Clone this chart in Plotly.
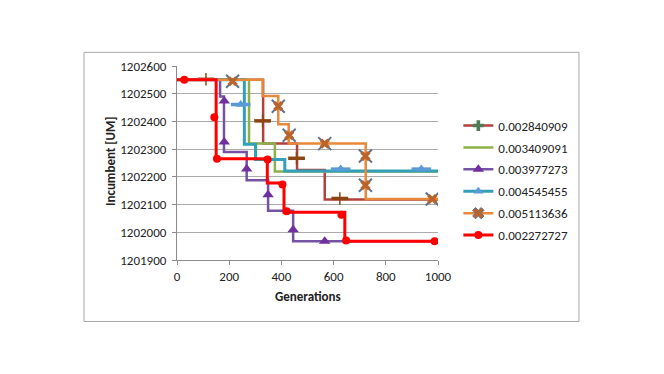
import plotly.graph_objects as go

# ---- data (step breakpoints, value holds until next x) ----
names = ["0.002840909", "0.003409091", "0.003977273", "0.004545455", "0.005113636", "0.002272727"]

s1_x = [0, 330, 460, 566, 1000]
s1_y = [1202550, 1202320, 1202225, 1202118, 1202118]
s1_mx = [111, 328, 458, 624]
s1_my = [1202552, 1202402, 1202267, 1202122]

s2_x = [0, 276, 375, 1000]
s2_y = [1202550, 1202320, 1202219, 1202219]
s2_mx = []
s2_my = []

s3_x = [0, 165, 180, 267, 349, 445, 1000]
s3_y = [1202550, 1202490, 1202290, 1202188, 1202078, 1201968, 1201968]
s3_mx = [181, 181, 267, 349, 445, 566]
s3_my = [1202474, 1202326, 1202228, 1202135, 1202009, 1201968]

s4_x = [0, 258, 301, 413, 1000]
s4_y = [1202550, 1202318, 1202263, 1202221, 1202221]
s4_mx = [244, 627, 936]
s4_my = [1202461, 1202228, 1202228]

s5_x = [0, 328, 388, 428, 723, 1000]
s5_y = [1202550, 1202492, 1202390, 1202320, 1202120, 1202120]
s5_mx = [213, 388, 430, 566, 722, 722, 978]
s5_my = [1202545, 1202455, 1202350, 1202320, 1202275, 1202170, 1202120]

s6_x = [0, 150, 346, 410, 643, 1000]
s6_y = [1202550, 1202265, 1202178, 1202072, 1201968, 1201968]
s6_mx = [28, 143, 153, 347, 404, 420, 630, 648, 987]
s6_my = [1202550, 1202415, 1202265, 1202263, 1202172, 1202076, 1202063, 1201970, 1201968]

x_ticks = [0, 200, 400, 600, 800, 1000]
y_ticks = [1201900, 1202000, 1202100, 1202200, 1202300, 1202400, 1202500, 1202600]

FONT = "Calibri, Carlito, Lato, sans-serif"

fig = go.Figure()

def add_series(name, xs, ys, mx, my, lcolor, lwidth, markers, legend_marker):
    # step line
    fig.add_trace(go.Scatter(x=xs, y=ys, mode="lines", line=dict(color=lcolor, width=lwidth, shape="hv"),
                             showlegend=False, hoverinfo="skip"))
    # markers (may be built from several layered symbols)
    for m in markers:
        if mx:
            fig.add_trace(go.Scatter(x=mx, y=my, mode="markers", marker=m, showlegend=False, hoverinfo="skip"))
    # legend entry
    if legend_marker is None:
        fig.add_trace(go.Scatter(x=[None], y=[None], mode="lines", name=name,
                                 line=dict(color=lcolor, width=lwidth), legendgroup=name))
    else:
        fig.add_trace(go.Scatter(x=[None], y=[None], mode="lines+markers", name=name,
                                 line=dict(color=lcolor, width=lwidth), marker=legend_marker, legendgroup=name))

add_series(names[0], s1_x, s1_y, s1_mx, s1_my, "#B0413E", 2.5,
           [dict(symbol="line-ew", size=12, line=dict(color="#8B4513", width=3.5)),
            dict(symbol="line-ns", size=9, line=dict(color="#8B4513", width=1.5))],
           dict(symbol="cross", size=9, color="#4E7D55"))
add_series(names[1], s2_x, s2_y, s2_mx, s2_my, "#8DB04A", 2.5, [], None)
add_series(names[2], s3_x, s3_y, s3_mx, s3_my, "#7453A2", 2.5,
           [dict(symbol="triangle-up", size=10, color="#7030A0")],
           dict(symbol="triangle-up", size=10, color="#7030A0"))
add_series(names[3], s4_x, s4_y, s4_mx, s4_my, "#31A0B8", 3,
           [dict(symbol="line-ew", size=14, line=dict(color="#5B9BD5", width=3.5)),
            dict(symbol="triangle-up", size=9, color="#5B9BD5")],
           dict(symbol="triangle-up", size=9, color="#5B9BD5"))
add_series(names[4], s5_x, s5_y, s5_mx, s5_my, "#E8883A", 2.5,
           [dict(symbol="x-thin", size=13, line=dict(color="#5E7290", width=2)),
            dict(symbol="x", size=9, color="#B8642C", line=dict(width=0))],
           dict(symbol="x", size=10, color="#B8642C", line=dict(color="#5E7290", width=1)))
add_series(names[5], s6_x, s6_y, s6_mx, s6_my, "#FF0000", 3,
           [dict(symbol="circle", size=8, color="#FF0000")],
           dict(symbol="circle", size=8, color="#FF0000"))

fig.update_layout(
    width=664, height=374,
    margin=dict(l=169, r=234, t=58, b=122),
    paper_bgcolor="white", plot_bgcolor="white",
    font=dict(family=FONT, size=13, color="#222222"),
    showlegend=True,
    legend=dict(x=1.078, xanchor="left", y=0.77, yanchor="top", tracegroupgap=2,
                font=dict(family=FONT, size=13, color="#222222"), bgcolor="rgba(0,0,0,0)"),
    xaxis=dict(range=[0, 1000], tickvals=x_ticks, showgrid=False, zeroline=False,
               showline=True, linecolor="#8C8C8C", linewidth=1, ticks="outside", ticklen=4,
               tickcolor="#8C8C8C", tickfont=dict(family=FONT, size=13)),
    yaxis=dict(range=[1201900, 1202600], tickvals=y_ticks, tickformat="d", showgrid=True,
               gridcolor="#ABABAB", gridwidth=1, zeroline=False,
               showline=True, linecolor="#8C8C8C", linewidth=1, ticks="outside", ticklen=4,
               tickcolor="#8C8C8C", tickfont=dict(family=FONT, size=13), ticklabelstandoff=3),
    annotations=[
        dict(text="<b>Generations</b>", xref="paper", yref="paper", x=0.5, y=-0.19,
             xanchor="center", yanchor="middle", showarrow=False, font=dict(family=FONT, size=13)),
        dict(text="<b>Incumbent [UM]</b>", xref="paper", yref="paper", x=-0.257, y=0.51,
             xanchor="center", yanchor="middle", textangle=-90, showarrow=False,
             font=dict(family=FONT, size=13)),
    ],
    shapes=[dict(type="rect", xref="paper", yref="paper", x0=-0.3563, x1=1.540, y0=-0.317, y1=1.0704,
                 line=dict(color="#A6A6A6", width=1), fillcolor="rgba(0,0,0,0)", layer="below")],
)

fig.write_html("out.html")
